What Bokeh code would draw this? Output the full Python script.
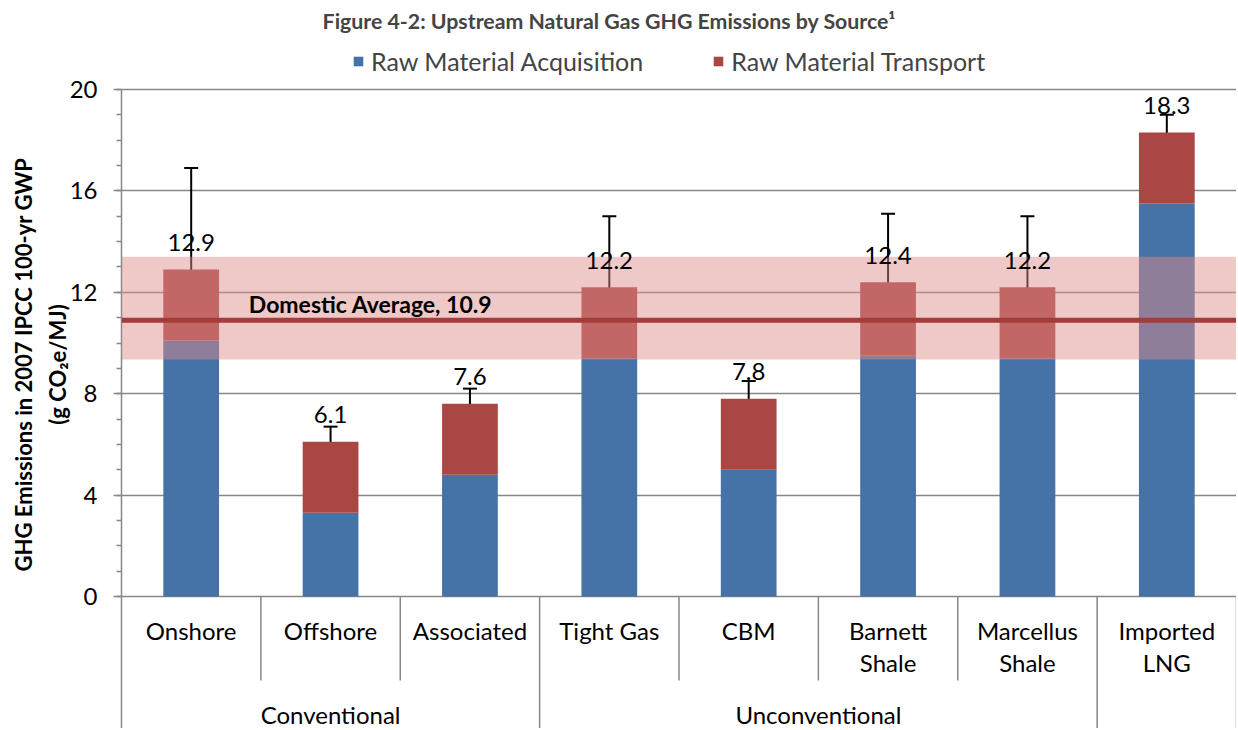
from bokeh.plotting import figure
from bokeh.models import (Range1d, FixedTicker, Whisker, TeeHead, BoxAnnotation,
                          Span, Label, Legend, LegendItem, ColumnDataSource, LinearAxis)
from bokeh.core.properties import value
from bokeh.embed import file_html
from bokeh.resources import INLINE

# ---------------- data ----------------
categories = ["Onshore", "Offshore", "Associated", "Tight Gas", "CBM",
              "Barnett\nShale", "Marcellus\nShale", "Imported\nLNG"]
groups = ["Conventional", "Unconventional"]
group_spans = [(0, 3), (3, 7)]
acquisition = [10.1, 3.3, 4.8, 9.4, 5.0, 9.5, 9.4, 15.5]
transport = [2.8, 2.8, 2.8, 2.8, 2.8, 2.9, 2.8, 2.8]
totals = [12.9, 6.1, 7.6, 12.2, 7.8, 12.4, 12.2, 18.3]
err_high = [16.9, 6.7, 8.2, 15.0, 8.5, 15.1, 15.0, 19.0]
err_low = [10.45, 5.45, 7.0, 10.5, 7.15, 10.55, 10.0, 17.6]
domestic_avg = 10.9
band_low, band_high = 9.35, 13.4
y_ticks = [0, 4, 8, 12, 16, 20]
series_names = ["Raw Material Acquisition", "Raw Material Transport"]
title_text = "Figure 4-2: Upstream Natural Gas GHG Emissions by Source\u00b9"
y_title = ["GHG Emissions in 2007 IPCC 100-yr GWP", "(g CO\u2082e/MJ)"]

BLUE = "#4572A7"
RED = "#AA4643"
GRID = "#878787"
FONT = "Lato"

n = len(categories)
xs = [i + 0.5 for i in range(n)]
line1 = [c.split("\n")[0] for c in categories]
line2 = [c.split("\n")[1] if "\n" in c else "" for c in categories]

src = ColumnDataSource(dict(
    x=xs, acquisition=acquisition, transport=transport, total=totals,
    total_label=[f"{t:.1f}" for t in totals], err_high=err_high, err_low=err_low,
    line1=line1, line2=line2,
))

Y_TOP = 23.511
Y_BOTTOM = -5.207
p = figure(width=1236, height=728, x_range=Range1d(0, n), y_range=Range1d(Y_BOTTOM, Y_TOP),
           output_backend="svg", toolbar_location=None, x_axis_location=None,
           min_border_left=121, min_border_right=0, min_border_top=0, min_border_bottom=0)
p.outline_line_color = None
p.background_fill_color = "white"

# main y axis
ax = p.yaxis[0]
ax.bounds = (Y_BOTTOM, 20)
ax.ticker = FixedTicker(ticks=y_ticks, minor_ticks=list(range(0, 21)))
ax.major_tick_in = 0
ax.major_tick_out = 8
ax.minor_tick_in = 0
ax.minor_tick_out = 5
for attr in ("axis_line", "major_tick_line", "minor_tick_line"):
    setattr(ax, attr + "_color", GRID)
    setattr(ax, attr + "_width", 1.5)
ax.major_label_text_font = FONT
ax.major_label_text_font_size = "24px"
ax.major_label_text_color = "black"
ax.major_label_standoff = 16

# extra axes carrying only the two lines of the y-axis title
for txt, standoff in ((y_title[1], -4), (y_title[0], 4)):
    a = LinearAxis(ticker=FixedTicker(ticks=[]), bounds=(0.2, 20), axis_label=txt,
                   axis_line_color=None, major_tick_line_color=None,
                   minor_tick_line_color=None, major_tick_out=0, minor_tick_out=0,
                   major_tick_in=0, minor_tick_in=0,
                   axis_label_standoff=standoff, axis_label_text_font=FONT,
                   axis_label_text_font_size="22px", axis_label_text_font_style="bold",
                   axis_label_text_color="black")
    p.add_layout(a, "left")

p.xgrid.visible = False
p.ygrid.ticker = FixedTicker(ticks=y_ticks)
p.ygrid.grid_line_color = GRID
p.ygrid.grid_line_width = 1.5

# bars
rs = p.vbar_stack(["acquisition", "transport"], x="x", width=0.4, color=[BLUE, RED],
                  line_color=None, source=src)

# error bars (under the band)
p.add_layout(Whisker(source=src, base="x", upper="err_high", lower="err_low",
                     line_color="black", line_width=2,
                     upper_head=TeeHead(size=14, line_color="black", line_width=2),
                     lower_head=TeeHead(size=14, line_color="black", line_width=2)))

# domestic band + line
p.add_layout(BoxAnnotation(bottom=band_low, top=band_high, fill_color="#DD8C8C",
                           fill_alpha=0.48, line_color=None))
p.add_layout(Span(location=domestic_avg, dimension="width", line_color="#A33D3C",
                  line_width=5))
p.add_layout(Label(x=1.787, y=11.52, text=f"Domestic Average, {domestic_avg}",
                   text_font=FONT, text_font_size="23px", text_font_style="bold",
                   text_align="center", text_baseline="middle", text_color="black"))

# value labels
p.text(x="x", y="total", text="total_label", source=src, y_offset=-27,
       text_align="center", text_baseline="middle", text_font=value(FONT),
       text_font_size="24px", text_color="black", level="overlay")

# category axis (drawn inside the extended frame)
inner_seps = [1, 2, 4, 5, 6]
group_seps = [3, 7, 8]
p.segment(x0=inner_seps, y0=0, x1=inner_seps, y1=-3.31, line_color=GRID, line_width=1.5)
p.segment(x0=group_seps, y0=0, x1=group_seps, y1=Y_BOTTOM, line_color=GRID, line_width=1.5)
p.text(x="x", y=-1.341, text="line1", source=src, text_align="center",
       text_baseline="middle", text_font=value(FONT), text_font_size="24px", text_color="black")
p.text(x="x", y=-2.604, text="line2", source=src, text_align="center",
       text_baseline="middle", text_font=value(FONT), text_font_size="24px", text_color="black")
p.text(x=[(a + b) / 2 for a, b in group_spans], y=-4.655, text=groups, text_align="center",
       text_baseline="middle", text_font=value(FONT), text_font_size="24px", text_color="black")

# title
p.add_layout(Label(x=3.50, y=22.72, text=title_text,
                   text_font=FONT, text_font_size="21.3px", text_font_style="bold",
                   text_align="center", text_baseline="middle"))

# legend
legend = Legend(items=[LegendItem(label=series_names[0], renderers=[rs[0]]),
                       LegendItem(label=series_names[1], renderers=[rs[1]])],
                orientation="horizontal", location=(231, 652), glyph_width=12,
                glyph_height=12, label_standoff=7, spacing=69, padding=0, margin=0,
                border_line_color=None, background_fill_alpha=0,
                label_text_font=FONT, label_text_font_size="25px")
p.add_layout(legend)

open("out.html", "w").write(file_html(p, INLINE))
